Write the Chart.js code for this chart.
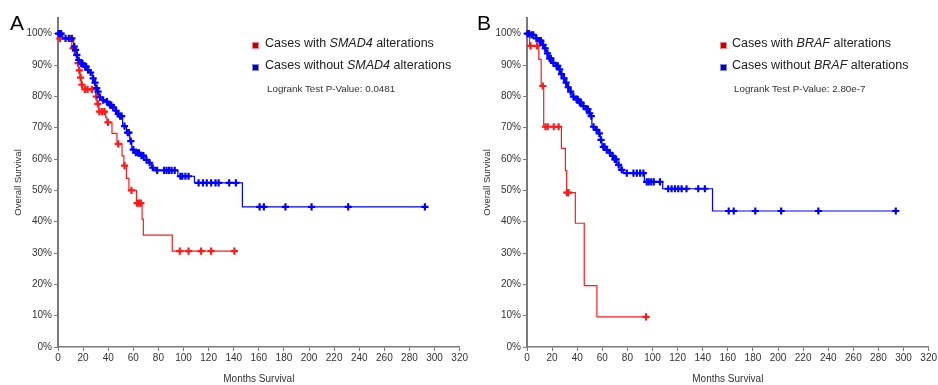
<!DOCTYPE html>
<html>
<head>
<meta charset="utf-8">
<script src="https://cdn.jsdelivr.net/npm/chart.js@4.4.1/dist/chart.umd.min.js"></script>
<style>
  body { margin: 0; background: #fff; font-family: "Liberation Sans", Arial, sans-serif; }
  #wrap { position: relative; width: 938px; height: 385px; overflow: hidden; }
  canvas { position: absolute; top: 0; }
  .lbl { position: absolute; white-space: nowrap; color: #222; }
  .letter { font-size: 21px; line-height: 24px; color: #000; }
  .leg { font-size: 12.5px; line-height: 16px; }
  .pv { font-size: 9.8px; line-height: 12px; color: #333; }
  .sq { position: absolute; width: 5px; height: 5px; }
</style>
</head>
<body>
<div id="wrap">
  <canvas id="chartA" width="469" height="385" style="left:0"></canvas>
  <canvas id="chartB" width="469" height="385" style="left:469px"></canvas>

  <div class="lbl letter" style="left:10px;top:11px">A</div>
  <div class="lbl letter" style="left:477px;top:11px">B</div>

  <span class="sq" style="left:252px;top:42px;background:#c00000;border:1px solid #e88"></span>
  <div class="lbl leg" style="left:265px;top:35px">Cases with <i>SMAD4</i> alterations</div>
  <span class="sq" style="left:252px;top:64px;background:#0000a8;border:1px solid #88e"></span>
  <div class="lbl leg" style="left:265px;top:57px">Cases without <i>SMAD4</i> alterations</div>
  <div class="lbl pv" style="left:267px;top:83px">Logrank Test P-Value: 0.0481</div>

  <span class="sq" style="left:720px;top:42px;background:#c00000;border:1px solid #e88"></span>
  <div class="lbl leg" style="left:732px;top:35px">Cases with <i>BRAF</i> alterations</div>
  <span class="sq" style="left:720px;top:64px;background:#0000a8;border:1px solid #88e"></span>
  <div class="lbl leg" style="left:732px;top:57px">Cases without <i>BRAF</i> alterations</div>
  <div class="lbl pv" style="left:734px;top:83px">Logrank Test P-Value: 2.80e-7</div>
</div>
<script>
// x ticks every 20 months, y ticks every 10%
var monthTicks = [0, 20, 40, 60, 80, 100, 120, 140, 160, 180, 200, 220, 240, 260, 280, 300, 320];
var survTicks = [0, 10, 20, 30, 40, 50, 60, 70, 80, 90, 100];

// panel A - SMAD4 altered (red)
var smadAltTime = [0, 1, 11, 13, 15.5, 16.5, 17.5, 18.5, 19.5, 30, 31, 32.5, 38, 39, 43, 47, 51, 52.5, 54.5, 56.5, 62.5, 67, 68, 91, 140.5];
var smadAltSurv = [100, 98.4, 95.3, 93, 90.6, 88.3, 86, 83.7, 82.2, 79.9, 77.6, 75.1, 73.3, 71.7, 68.2, 64.8, 61, 57.9, 53.8, 50, 45.9, 40.8, 35.7, 30.6, 30.6];
var smadAltCensTime = [1.5, 10, 12, 16, 17, 18, 19, 21.5, 23.5, 27, 30.5, 31.8, 33, 35, 37, 39.8, 48, 53, 58.5, 63, 64.5, 66, 97, 104, 114, 122, 140.5];
var smadAltCensSurv = [98.4, 98.4, 95.3, 90.6, 88.3, 86, 83.7, 82.2, 82.2, 82.2, 79.9, 77.6, 75.1, 75.1, 75.1, 71.7, 64.8, 57.9, 50, 45.9, 45.9, 45.9, 30.6, 30.6, 30.6, 30.6, 30.6];

// panel A - SMAD4 unaltered (blue)
var smadWtTime = [0, 3.8, 12.5, 13.5, 14.5, 15.5, 17.5, 20.5, 23, 25.5, 27.3, 28.6, 30, 31.3, 32.6, 35, 37.8, 40.3, 43, 45.6, 47, 49, 51.5, 54.5, 57.2, 58.8, 61.2, 65.3, 69.3, 72, 74.6, 77.3, 95.5, 108.7, 146.9, 292.3];
var smadWtSurv = [100, 98.5, 95.9, 94.8, 93.2, 91.6, 90.5, 89.5, 88.4, 87.6, 85.7, 84.4, 82.6, 81.5, 79.7, 78.8, 78.3, 77.2, 76.5, 75.4, 74.4, 73.7, 70.5, 68.4, 65.7, 63, 62, 61.1, 59.7, 58.8, 57.2, 56.4, 54.5, 52.4, 44.7, 44.7];
var smadWtCensTime = [0.5, 1.5, 2.5, 6, 8.6, 11, 13, 14, 15, 16.5, 18.5, 19.5, 21.5, 22.5, 24, 26, 28, 29.5, 30.8, 32, 33.5, 36, 39, 41.5, 42.5, 44, 46.3, 48, 49.5, 50.7, 53, 55.5, 56.5, 58, 60, 62, 63.5, 64.5, 66.5, 68, 70.5, 73, 75.5, 79, 84.5, 86.5, 88.5, 90.5, 93, 97.5, 99, 101.5, 104, 112, 115.5, 118.5, 122, 125.5, 128, 136.4, 141.7, 160.6, 164, 181.2, 202, 231.2, 292.3];
var smadWtCensSurv = [100, 100, 100, 98.5, 98.5, 98.5, 95.9, 94.8, 93.2, 91.6, 90.5, 90.5, 89.5, 89.5, 88.4, 87.6, 85.7, 84.4, 82.6, 81.5, 79.7, 78.8, 78.3, 77.2, 77.2, 76.5, 75.4, 74.4, 73.7, 73.7, 70.5, 68.4, 68.4, 65.7, 63, 62, 62, 62, 61.1, 61.1, 59.7, 58.8, 57.2, 56.4, 56.4, 56.4, 56.4, 56.4, 56.4, 54.5, 54.5, 54.5, 54.5, 52.4, 52.4, 52.4, 52.4, 52.4, 52.4, 52.4, 52.4, 44.7, 44.7, 44.7, 44.7, 44.7, 44.7];

// panel B - BRAF altered (red)
var brafAltTime = [0, 2, 9.4, 11.3, 13.3, 27.4, 30.6, 31.6, 38.5, 45.6, 55.7, 94.8];
var brafAltSurv = [100, 96.1, 91.8, 83.3, 70.3, 63.4, 56.3, 49.3, 39.5, 19.6, 9.6, 9.6];
var brafAltCensTime = [2.8, 8, 12.6, 14.7, 16.5, 21.3, 25.2, 31.8, 33, 94.8];
var brafAltCensSurv = [96.1, 96.1, 83.3, 70.3, 70.3, 70.3, 70.3, 49.3, 49.3, 9.6];

// panel B - BRAF unaltered (blue)
var brafWtTime = [0, 2.8, 6.7, 9.4, 12, 13.9, 15.5, 17.3, 20, 22.6, 25.2, 26.6, 28.7, 30.6, 31.9, 33.7, 35.9, 38.5, 41.1, 43.8, 46.4, 49.1, 50.4, 51.7, 54.4, 57, 58.3, 59.7, 62.3, 64.9, 67.6, 68.9, 71.6, 74.2, 76.8, 93.5, 108.1, 147.8, 293.8];
var brafWtSurv = [100, 99.6, 98.5, 97.8, 96.4, 95.3, 93.7, 92.1, 90.7, 89.7, 88.6, 87.1, 85.7, 84.4, 82.9, 81.5, 79.9, 79, 78, 76.9, 75.9, 74.6, 73.7, 70.3, 69.3, 68.2, 66.1, 63.9, 62.9, 62, 61, 59.9, 58.1, 56.5, 55.5, 52.7, 50.5, 43.4, 43.4];
var brafWtCensTime = [0.5, 1.5, 3.5, 5, 7.5, 10, 11, 12.8, 14.5, 16.3, 18, 19, 21, 23.5, 24.5, 26, 27.5, 29.5, 31.2, 32.8, 34.8, 37, 39.5, 40.5, 42, 43, 45, 47.5, 48.5, 50, 51.2, 53, 55.5, 57.6, 59, 60.8, 61.8, 63.5, 66, 68.3, 70, 71, 73, 75.5, 79.5, 84.8, 87.5, 90.1, 92.7, 95.4, 97, 99, 101, 105.9, 112.5, 115.2, 117.9, 120.5, 123.2, 127.1, 136.4, 141.7, 160.7, 164.7, 181.9, 202.5, 232.1, 293.8];
var brafWtCensSurv = [100, 100, 99.6, 99.6, 98.5, 97.8, 97.8, 96.4, 95.3, 93.7, 92.1, 92.1, 90.7, 89.7, 89.7, 88.6, 87.1, 85.7, 84.4, 82.9, 81.5, 79.9, 79, 79, 78, 78, 76.9, 75.9, 75.9, 74.6, 73.7, 70.3, 69.3, 68.2, 66.1, 63.9, 63.9, 62.9, 62, 61, 59.9, 59.9, 58.1, 56.5, 55.5, 55.5, 55.5, 55.5, 55.5, 52.7, 52.7, 52.7, 52.7, 52.7, 50.5, 50.5, 50.5, 50.5, 50.5, 50.5, 50.5, 50.5, 43.4, 43.4, 43.4, 43.4, 43.4, 43.4];

var RED = '#ff1a1a';
var BLUE = '#0000ff';
var AXIS = '#7a7a7a';

function pts(xs, ys) {
  return xs.map(function (x, i) { return {x: x, y: ys[i]}; });
}

// KM curve: hold the old value until the event time, then drop
function stepSet(xs, ys, color) {
  return {
    type: 'line', data: pts(xs, ys), stepped: 'before',
    borderColor: color, borderWidth: 1.2, pointRadius: 0, fill: false, clip: 8
  };
}

function censSet(xs, ys, color) {
  return {
    type: 'scatter', data: pts(xs, ys), showLine: false,
    pointStyle: 'cross', pointRadius: 3.6, borderWidth: 2.2,
    borderColor: color, backgroundColor: color, clip: 8
  };
}

function makePanel(id, alt, wt, padRight) {
  return new Chart(document.getElementById(id), {
    data: {
      datasets: [
        stepSet(wt[0], wt[1], BLUE),
        censSet(wt[2], wt[3], BLUE),
        stepSet(alt[0], alt[1], RED),
        censSet(alt[2], alt[3], RED)
      ]
    },
    options: {
      responsive: false,
      animation: false,
      devicePixelRatio: 1,
      layout: {padding: {top: 18, right: padRight, left: 0, bottom: 0}},
      plugins: {legend: {display: false}, tooltip: {enabled: false}},
      scales: {
        x: {
          type: 'linear', min: 0, max: 320,
          afterBuildTicks: function (s) { s.ticks = monthTicks.map(function (v) { return {value: v}; }); },
          afterFit: function (s) { s.height = 38; },
          ticks: {font: {family: 'Liberation Sans', size: 10}, color: '#333', padding: 1, maxRotation: 0, autoSkip: false},
          grid: {drawOnChartArea: false, drawTicks: true, tickLength: 4, color: AXIS},
          border: {color: AXIS, width: 1.5},
          title: {display: true, text: 'Months Survival', font: {family: 'Liberation Sans', size: 10}, color: '#333', padding: {top: 0, bottom: 0}}
        },
        y: {
          type: 'linear', min: 0, max: 105,
          afterBuildTicks: function (s) { s.ticks = survTicks.map(function (v) { return {value: v}; }); },
          afterFit: function (s) { s.width = 58; },
          ticks: {font: {family: 'Liberation Sans', size: 10}, color: '#333', padding: 2,
                  callback: function (v) { return v + '%'; }},
          grid: {drawOnChartArea: false, drawTicks: true, tickLength: 4, color: AXIS},
          border: {color: AXIS, width: 2},
          title: {display: true, text: 'Overall Survival', font: {family: 'Liberation Sans', size: 9.5}, color: '#333', padding: {top: 13, bottom: 0}}
        }
      }
    }
  });
}

makePanel('chartA',
  [smadAltTime, smadAltSurv, smadAltCensTime, smadAltCensSurv],
  [smadWtTime, smadWtSurv, smadWtCensTime, smadWtCensSurv], 6);
makePanel('chartB',
  [brafAltTime, brafAltSurv, brafAltCensTime, brafAltCensSurv],
  [brafWtTime, brafWtSurv, brafWtCensTime, brafWtCensSurv], 8);
</script>
</body>
</html>
